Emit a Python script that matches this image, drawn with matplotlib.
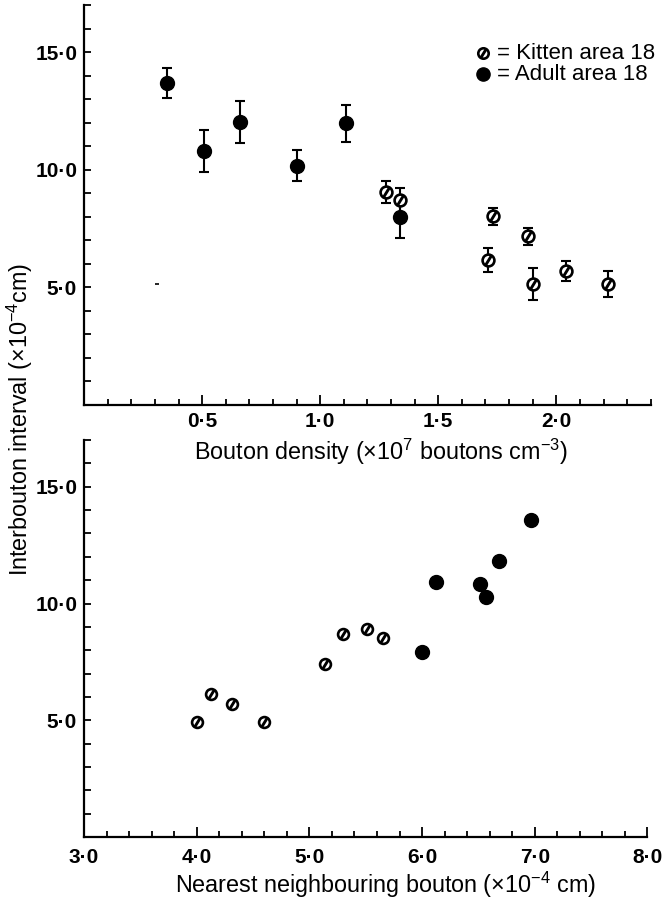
import matplotlib
matplotlib.use("Agg")
import matplotlib.pyplot as plt
from matplotlib.path import Path
from matplotlib.ticker import MultipleLocator, FixedLocator, FuncFormatter
import numpy as np

# ---------------- data ----------------
# Top panel: interbouton interval vs bouton density (mean +/- error)
adult_density = [0.35, 0.51, 0.66, 0.90, 1.11, 1.34]
adult_interval_top = [13.70, 10.80, 12.05, 10.18, 11.98, 7.98]
adult_err_top = [0.65, 0.90, 0.90, 0.65, 0.78, 0.86]

kitten_density = [1.28, 1.34, 1.73, 1.71, 1.88, 1.90, 2.04, 2.22]
kitten_interval_top = [9.05, 8.70, 8.02, 6.16, 7.17, 5.16, 5.69, 5.16]
kitten_err_top = [0.47, 0.52, 0.35, 0.52, 0.37, 0.68, 0.42, 0.55]

speck_x = [0.31]
speck_y = [5.15]

# Bottom panel: interbouton interval vs nearest neighbouring bouton
kitten_nn = [4.00, 4.13, 4.31, 4.60, 5.14, 5.30, 5.51, 5.65]
kitten_interval_bot = [4.94, 6.11, 5.68, 4.91, 7.39, 8.68, 8.93, 8.53]

adult_nn = [6.00, 6.12, 6.51, 6.57, 6.68, 6.97]
adult_interval_bot = [7.91, 10.93, 10.84, 10.27, 11.82, 13.58]

legend_labels = ["= Kitten area 18", "= Adult area 18"]
ylabel = r"Interbouton interval ($\times$10$^{-4}$cm)"
xlabel_top = r"Bouton density ($\times$10$^{7}$ boutons cm$^{-3}$)"
xlabel_bot = r"Nearest neighbouring bouton ($\times$10$^{-4}$ cm)"

# ---------------- style ----------------
plt.rcParams["font.family"] = ["Liberation Sans", "DejaVu Sans"]
plt.rcParams["mathtext.fontset"] = "custom"
plt.rcParams["mathtext.rm"] = "Liberation Sans"
plt.rcParams["mathtext.it"] = "Liberation Sans"
plt.rcParams["mathtext.bf"] = "Liberation Sans:bold"

FS_TICK = 15
FS_LABEL = 16.8
FS_LEG = 16

slash_path = Path([(-0.38, -0.62), (0.38, 0.62)], [Path.MOVETO, Path.LINETO])

def kitten(ax, x, y, size=8.5, **kw):
    ax.plot(x, y, ls="none", marker="o", ms=size, mfc="white", mec="black",
            mew=1.9, zorder=4, **kw)
    ax.plot(x, y, ls="none", marker=slash_path, ms=size * 0.78, mfc="none",
            mec="black", mew=2.1, zorder=5, **kw)

def adult(ax, x, y, size=10.0, **kw):
    ax.plot(x, y, ls="none", marker="o", ms=size, mfc="black", mec="black",
            mew=1.0, zorder=4, **kw)

fmt = FuncFormatter(lambda v, p: f"{v:.1f}".replace(".", "\u00b7"))

def style_axes(ax, xpad):
    for s in ("top", "right"):
        ax.spines[s].set_visible(False)
    for s in ("left", "bottom"):
        ax.spines[s].set_linewidth(1.6)
    ax.tick_params(which="both", direction="in", width=1.3, colors="black",
                   labelsize=FS_TICK)
    ax.tick_params(axis="x", which="major", length=7, pad=xpad)
    ax.tick_params(axis="x", which="minor", length=4.5)
    ax.tick_params(axis="y", which="major", length=5, pad=5)
    ax.tick_params(axis="y", which="minor", length=5)
    ax.set_ylim(0, 17)
    ax.yaxis.set_major_locator(FixedLocator([5, 10, 15]))
    ax.yaxis.set_minor_locator(MultipleLocator(1))
    ax.yaxis.set_major_formatter(fmt)
    ax.xaxis.set_major_formatter(fmt)
    for lab in ax.get_xticklabels() + ax.get_yticklabels():
        lab.set_fontweight("bold")

fig = plt.figure(figsize=(6.62, 9.0), dpi=100)

# ---------------- top panel ----------------
ax1 = fig.add_axes([0.127, 0.550, 0.856, 0.444])
ax1.set_xlim(0, 2.4)
ax1.xaxis.set_major_locator(FixedLocator([0.5, 1.0, 1.5, 2.0]))
ax1.xaxis.set_minor_locator(MultipleLocator(0.1))
style_axes(ax1, xpad=5)

ax1.errorbar(adult_density, adult_interval_top, yerr=adult_err_top, fmt="none",
             ecolor="black", elinewidth=1.5, capsize=3.5, capthick=1.5, zorder=2)
ax1.errorbar(kitten_density, kitten_interval_top, yerr=kitten_err_top, fmt="none",
             ecolor="black", elinewidth=1.5, capsize=3.5, capthick=1.5, zorder=2)
adult(ax1, adult_density, adult_interval_top)
kitten(ax1, kitten_density, kitten_interval_top)
ax1.plot(speck_x, speck_y, ls="none", marker="_", ms=3, mew=1.2, color="black")

# legend (manual)
lx, ly1, ly2 = 0.704, 0.880, 0.828
kitten(ax1, [lx], [ly1], size=7.5, transform=ax1.transAxes, clip_on=False)
adult(ax1, [lx], [ly2], size=9.5, transform=ax1.transAxes, clip_on=False)
ax1.text(lx + 0.025, ly1, legend_labels[0], transform=ax1.transAxes,
         fontsize=FS_LEG, va="center", ha="left")
ax1.text(lx + 0.025, ly2, legend_labels[1], transform=ax1.transAxes,
         fontsize=FS_LEG, va="center", ha="left")

# ---------------- bottom panel ----------------
ax2 = fig.add_axes([0.127, 0.070, 0.851, 0.441])
ax2.set_xlim(3.0, 8.0)
ax2.xaxis.set_major_locator(MultipleLocator(1.0))
ax2.xaxis.set_minor_locator(MultipleLocator(0.2))
style_axes(ax2, xpad=8)

kitten(ax2, kitten_nn, kitten_interval_bot, size=7.8)
adult(ax2, adult_nn, adult_interval_bot)

# ---------------- labels ----------------
fig.text(0.576, 0.489, xlabel_top, fontsize=FS_LABEL, ha="center", va="baseline")
fig.text(0.582, 0.008, xlabel_bot, fontsize=FS_LABEL, ha="center", va="baseline")
fig.text(0.030, 0.534, ylabel, fontsize=FS_LABEL, ha="center", va="center",
         rotation=90)

fig.savefig("out.png", dpi=100)
